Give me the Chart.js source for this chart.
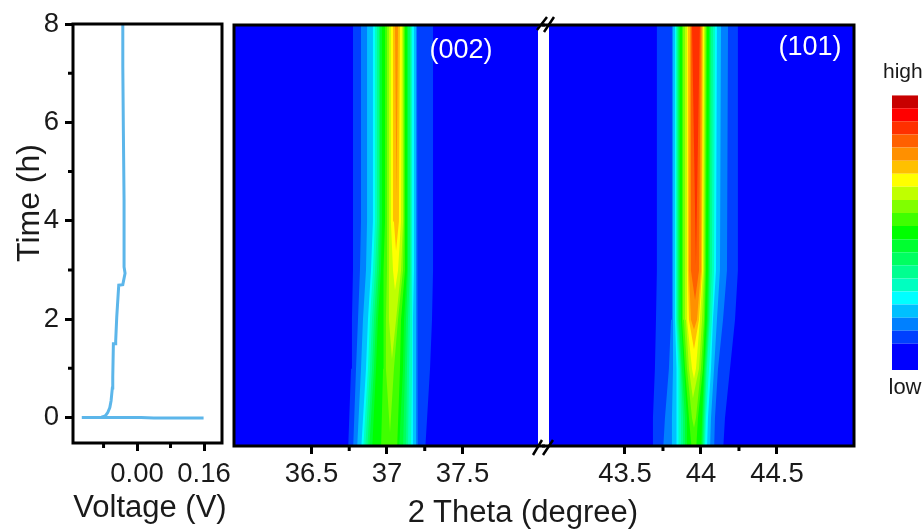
<!DOCTYPE html>
<html>
<head>
<meta charset="utf-8">
<script src="https://cdn.jsdelivr.net/npm/chart.js@4"></script>
<style>
html,body{margin:0;padding:0;background:#fff;overflow:hidden;width:924px;height:529px;position:relative}
canvas{position:absolute;display:block;filter:blur(0.6px)}
.lab{position:absolute;text-align:center;font-family:"Liberation Sans";color:#1a1a1a;white-space:nowrap}
#xlab{left:323px;width:400px;top:494px;font-size:31px;line-height:36px}
#vlab{left:50px;width:200px;top:489px;font-size:31px;line-height:36px}
#tlab{left:-72px;width:200px;top:185px;font-size:32px;line-height:36px;transform:rotate(-90deg)}
</style>
</head>
<body>
<canvas id="c101" width="325" height="529" style="left:539px;top:0"></canvas>
<canvas id="c002" width="335" height="529" style="left:224px;top:0"></canvas>
<canvas id="cv" width="232" height="529" style="left:0;top:0"></canvas>
<canvas id="cb" width="44" height="360" style="left:883px;top:50px"></canvas>
<div class="lab" id="tlab">Time (h)</div>
<div class="lab" id="vlab">Voltage (V)</div>
<div class="lab" id="xlab">2 Theta (degree)</div>
<script>
// ---------- Voltage panel ----------
const voltage = [0.159,0.04,0.01,-0.05,-0.132,-0.085,-0.076,-0.07,-0.065,-0.062,-0.059,-0.058,-0.0565,-0.0525,-0.051,-0.0485,-0.0437,-0.034,-0.0286,-0.031,-0.031,-0.0326,-0.034,-0.034];
const voltTime = [-0.01,-0.01,0,0,0,0.005,0.03,0.1,0.2,0.34,0.6,0.82,1.5,1.5,1.56,2.04,2.69,2.7,2.93,3.06,4.42,5.78,7.14,8];
const timeTicks = [0,2,4,6,8];
const timeMinor = [1,3,5,7];
const voltTicks = [0,0.16];
const voltMinor = [-0.08,0.08];

// ---------- Colour levels, low to high ----------
const levelColors = ['#0000ff','#0040ff','#0080ff','#00c0ff','#00ffff','#00ffc0','#00ff90','#00ff60','#00ff30','#00ff00','#40ff00','#80ff00','#c0ff00','#ffff00','#ffc000','#ff9000','#ff6000','#ff3000','#ff0000','#c80000'];
const legendBands = ['#0000ff','#0000ff','#0040ff','#0080ff','#00c0ff','#00ffff','#00ffc0','#00ff90','#00ff60','#00ff30','#00ff00','#40ff00','#80ff00','#c0ff00','#ffff00','#ffc000','#ff9000','#ff6000','#ff3000','#ff0000','#c80000'];

// ---------- (002) contours: 2-theta of each level edge at each time ----------
const times002 = [-0.7,1,2,3,4,8];
const left002 = [
 [36.742,36.762,36.768,36.775,36.775,36.775],
 [36.775,36.795,36.808,36.821,36.828,36.828],
 [36.801,36.828,36.841,36.861,36.868,36.868],
 [36.828,36.861,36.874,36.894,36.907,36.907],
 [36.841,36.874,36.887,36.907,36.921,36.921],
 [36.854,36.887,36.901,36.921,36.934,36.934],
 [36.868,36.901,36.914,36.934,36.947,36.947],
 [36.881,36.914,36.927,36.947,36.954,36.954],
 [36.901,36.927,36.940,36.960,36.967,36.967],
 [36.960,36.974,36.974,36.980,36.987,36.987],
 [null,36.993,36.993,37.000,37.000,37.000],
 [null,null,37.013,37.013,37.013,37.013],
 [null,null,null,37.040,37.026,37.026],
 [null,null,null,null,37.046,37.040],
 [null,null,null,null,null,37.053]
];
const right002 = [
 [37.252,37.285,37.298,37.305,37.305,37.305],
 [37.205,37.205,37.205,37.205,37.199,37.199],
 [37.192,37.192,37.192,37.192,37.192,37.192],
 [37.172,37.172,37.172,37.179,37.179,37.179],
 [37.159,37.166,37.166,37.166,37.166,37.166],
 [37.139,37.146,37.152,37.159,37.159,37.159],
 [37.126,37.132,37.139,37.152,37.152,37.152],
 [37.106,37.119,37.126,37.139,37.139,37.139],
 [37.079,37.106,37.113,37.132,37.132,37.132],
 [37.066,37.086,37.093,37.119,37.119,37.119],
 [null,37.046,37.073,37.106,37.113,37.113],
 [null,null,37.060,37.093,37.106,37.106],
 [null,null,null,37.073,37.093,37.099],
 [null,null,null,null,37.079,37.086],
 [null,null,null,null,null,37.073]
];
const apex002 = [null,null,null,null,null,null,null,null,null,null,[37.020,-0.3],[37.033,1.2],[37.053,2.6],[37.060,3.4],[37.063,4.5]];

// ---------- (101) contours ----------
const times101 = [-0.7,0,1,2,3,8];
const left101 = [
 [43.678,43.684,43.697,43.704,43.710,43.710],
 [43.750,43.763,43.789,43.803,43.809,43.809],
 [43.809,43.809,43.816,43.816,43.816,43.816],
 [43.842,43.842,43.836,43.829,43.829,43.829],
 [43.855,43.855,43.849,43.836,43.836,43.836],
 [43.868,43.868,43.862,43.842,43.842,43.842],
 [43.882,43.882,43.868,43.849,43.849,43.849],
 [43.895,43.895,43.875,43.855,43.855,43.855],
 [43.908,43.908,43.888,43.868,43.862,43.862],
 [43.941,43.921,43.895,43.875,43.875,43.875],
 [null,43.941,43.908,43.888,43.882,43.882],
 [null,null,43.921,43.901,43.895,43.895],
 [null,null,43.941,43.908,43.908,43.908],
 [null,null,null,43.921,43.914,43.914],
 [null,null,null,43.934,43.921,43.928],
 [null,null,null,null,43.934,43.934],
 [null,null,null,null,null,43.941]
];
const right101 = [
 [44.145,44.158,44.191,44.224,44.243,44.243],
 [44.086,44.092,44.112,44.145,44.171,44.178],
 [44.059,44.066,44.086,44.105,44.125,44.132],
 [44.039,44.046,44.066,44.079,44.099,44.105],
 [44.026,44.033,44.053,44.072,44.086,44.092],
 [44.020,44.026,44.039,44.059,44.072,44.079],
 [44.013,44.020,44.033,44.053,44.059,44.066],
 [44.007,44.013,44.026,44.046,44.053,44.059],
 [44.000,44.007,44.020,44.039,44.046,44.053],
 [43.967,43.980,44.013,44.026,44.033,44.039],
 [null,43.967,44.000,44.020,44.026,44.033],
 [null,null,43.987,44.007,44.020,44.026],
 [null,null,43.967,43.993,44.013,44.020],
 [null,null,null,43.987,44.007,44.013],
 [null,null,null,43.974,44.000,44.007],
 [null,null,null,null,43.987,44.000],
 [null,null,null,null,null,43.993]
];
const apex101 = [null,null,null,null,null,null,null,null,null,null,[43.954,-0.2],[43.947,0.4],[43.954,0.8],[43.954,1.4],[43.954,1.8],[43.961,2.4],[43.967,3.1]];

// ---------- Axis ticks and labels ----------
const ticks002 = [36.5,37,37.5];
const minor002 = [36.75,37.25];
const ticks101 = [43.5,44,44.5];
const minor101 = [43.75,44.25];
const peak002 = ['(002)',37.49,7.47];
const peak101 = ['(101)',44.717,7.55];

const FONT = 'Liberation Sans';
const INK = '#1a1a1a';
const TICK_SIZE = 27.5;

function contourDatasets(times,left,right,apex){
  const out = [];
  for(let i = left.length-1; i >= 0; i--){
    const pts = [];
    if(apex[i]) pts.push({x:apex[i][0],y:apex[i][1]});
    times.forEach((t,j)=>{ if(left[i][j]!==null) pts.push({x:left[i][j],y:t}); });
    for(let j = times.length-1; j >= 0; j--){ if(right[i][j]!==null) pts.push({x:right[i][j],y:times[j]}); }
    out.push({data:pts,showLine:true,fill:'shape',backgroundColor:levelColors[i+1],borderWidth:0,borderColor:'rgba(0,0,0,0)',pointRadius:0,tension:0});
  }
  return out;
}

const panelPlugin = {
  id:'panel',
  beforeDatasetsDraw(chart,args,o){
    if(!o.ground) return;
    const a = chart.chartArea, c = chart.ctx;
    c.save(); c.fillStyle = o.ground; c.fillRect(a.left,a.top,a.right-a.left,a.bottom-a.top); c.restore();
  },
  afterDraw(chart,args,o){
    const a = chart.chartArea, c = chart.ctx;
    c.save();
    c.strokeStyle = '#000'; c.lineWidth = 3; c.lineCap = 'square';
    const L = a.left - (o.extendLeft||0), R = a.right + (o.extendRight||0);
    c.beginPath();
    c.moveTo(L,a.top); c.lineTo(R,a.top);
    c.moveTo(L,a.bottom); c.lineTo(R,a.bottom);
    if(!o.extendLeft){ c.moveTo(a.left,a.top); c.lineTo(a.left,a.bottom); }
    if(!o.extendRight){ c.moveTo(a.right,a.top); c.lineTo(a.right,a.bottom); }
    c.stroke();
    c.lineCap = 'butt'; c.lineWidth = 3;
    c.beginPath();
    (o.minorX||[]).forEach(v=>{ const p = chart.scales.x.getPixelForValue(v); c.moveTo(p,a.bottom); c.lineTo(p,a.bottom+5); });
    (o.minorY||[]).forEach(v=>{ const p = chart.scales.y.getPixelForValue(v); c.moveTo(a.left,p); c.lineTo(a.left-5,p); });
    c.stroke();
    if(o.breakMarks){
      const g = a.right;
      c.lineWidth = 2.5; c.beginPath();
      c.moveTo(g-1,a.top+5); c.lineTo(g+9,a.top-8);
      c.moveTo(g+6,a.top+7); c.lineTo(g+16,a.top-8);
      c.moveTo(g-5,a.bottom+9); c.lineTo(g+4,a.bottom-6);
      c.moveTo(g+5,a.bottom+9); c.lineTo(g+15,a.bottom-6);
      c.stroke();
    }
    if(o.note){
      c.fillStyle = '#fff'; c.font = '27px "'+FONT+'"'; c.textAlign = 'center'; c.textBaseline = 'middle';
      c.fillText(o.note[0],chart.scales.x.getPixelForValue(o.note[1]),chart.scales.y.getPixelForValue(o.note[2]));
    }
    c.restore();
  }
};

function setTicks(list){ return scale=>{ scale.ticks = list.map(v=>({value:v})); }; }
function noOverhang(s){ s.paddingLeft = 0; s.paddingRight = 0; s.paddingTop = 0; s.paddingBottom = 0; }
const tickGrid = {display:true,drawOnChartArea:false,drawTicks:true,tickLength:8,tickWidth:3,tickColor:'#000'};
const common = {responsive:false,animation:false,devicePixelRatio:1,events:[]};
const quiet = {legend:{display:false},tooltip:{enabled:false}};

// Voltage chart
new Chart(document.getElementById('cv'),{
  type:'scatter',
  data:{datasets:[{data:voltage.map((v,i)=>({x:v,y:voltTime[i]})),showLine:true,borderColor:'#5cb6ea',borderWidth:3,pointRadius:0,tension:0}]},
  options:{...common,
    layout:{padding:{left:0,top:24,right:10,bottom:0}},
    plugins:{...quiet,panel:{minorX:voltMinor,minorY:timeMinor}},
    scales:{
      x:{type:'linear',min:-0.153,max:0.203,border:{display:false},grid:tickGrid,
        afterBuildTicks:setTicks(voltTicks),afterFit(s){s.height=86;noOverhang(s);},
        ticks:{autoSkip:false,maxRotation:0,padding:7,color:INK,font:{family:FONT,size:TICK_SIZE},callback:v=>v.toFixed(2)}},
      y:{type:'linear',min:-0.52,max:8,border:{display:false},grid:tickGrid,
        afterBuildTicks:setTicks(timeTicks),afterFit(s){s.width=73;noOverhang(s);},
        ticks:{autoSkip:false,padding:6,color:INK,font:{family:FONT,size:TICK_SIZE},callback:v=>String(v)}}
    }},
  plugins:[panelPlugin]
});

function heat(id,times,left,right,apex,xmin,xmax,major,minor,note,pad,extra){
  new Chart(document.getElementById(id),{
    type:'scatter',
    data:{datasets:contourDatasets(times,left,right,apex)},
    options:{...common,
      layout:{padding:{left:pad[0],right:pad[1],top:25,bottom:0}},
      plugins:{...quiet,panel:{ground:levelColors[0],minorX:minor,note:note,...extra}},
      scales:{
        x:{type:'linear',min:xmin,max:xmax,border:{display:false},grid:tickGrid,
          afterBuildTicks:setTicks(major),afterFit(s){s.height=83;noOverhang(s);},
          ticks:{autoSkip:false,maxRotation:0,padding:4,color:INK,font:{family:FONT,size:TICK_SIZE},callback:v=>String(v)}},
        y:{type:'linear',display:false,min:-0.57,max:8}
      }},
    plugins:[panelPlugin]
  });
}
heat('c002',times002,left002,right002,apex002,35.987,38.0,ticks002,minor002,peak002,[10,21],{extendRight:5.5,breakMarks:true});
heat('c101',times101,left101,right101,apex101,43.0,45.007,ticks101,minor101,peak101,[10,10],{extendLeft:5.5});

// Colour legend
new Chart(document.getElementById('cb'),{
  type:'bar',
  data:{labels:[''],datasets:legendBands.map(c=>({data:[1],backgroundColor:c,borderWidth:0,barPercentage:0.591,categoryPercentage:1}))},
  options:{...common,
    layout:{padding:0},
    plugins:{...quiet,title:{display:true,text:'high',align:'start',color:INK,font:{family:FONT,size:21,weight:'normal'},padding:{top:10,bottom:10}}},
    scales:{
      x:{stacked:true,grid:{display:false},border:{display:false},ticks:{display:false},afterFit(s){s.height=40;noOverhang(s);},
        title:{display:true,text:'low',color:INK,font:{family:FONT,size:22},padding:{top:0,bottom:9}}},
      y:{stacked:true,display:false,min:0,max:legendBands.length}
    }}
});
</script>
</body>
</html>
